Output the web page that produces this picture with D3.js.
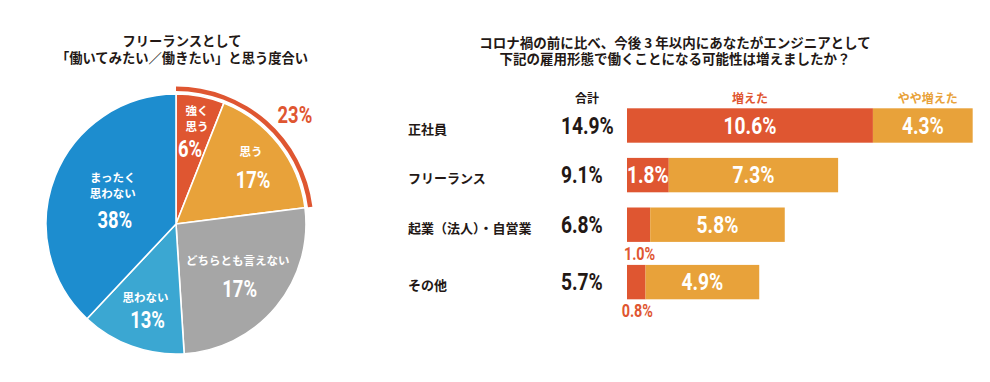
<!DOCTYPE html>
<html>
<head>
<meta charset="utf-8">
<script src="https://cdn.jsdelivr.net/npm/d3@7"></script>
<style>
  html, body { margin: 0; padding: 0; background: #fff; }
  svg { display: block; }
  .jp { font-family: "Noto Sans CJK JP", "Noto Sans", sans-serif; font-weight: 700; }
  .num { font-family: "Roboto", "Liberation Sans", sans-serif; font-weight: 700; }
</style>
</head>
<body>
<svg id="chart" width="990" height="382"></svg>
<script>
// ---------------- data ----------------
// Pie (left)
const pieTitle = ["フリーランスとして", "「働いてみたい／働きたい」と思う度合い"];
const pieCategories = ["強く思う", "思う", "どちらとも言えない", "思わない", "まったく思わない"];
const pieLabelLines = [["強く", "思う"], ["思う"], ["どちらとも言えない"], ["思わない"], ["まったく", "思わない"]];
const pieValues = [6, 17, 26, 13, 38];          // drawn slice sizes
const piePctLabels = ["6%", "17%", "17%", "13%", "38%"]; // printed labels
const pieHighlightLabel = "23%";

// Bars (right)
const barTitle = ["コロナ禍の前に比べ、今後 3 年以内にあなたがエンジニアとして", "下記の雇用形態で働くことになる可能性は増えましたか？"];
const barCategories = ["正社員", "フリーランス", "起業（法人）・自営業", "その他"];
const barTotals = [14.9, 9.1, 6.8, 5.7];
const increased = [10.6, 1.8, 1.0, 0.8];
const somewhatIncreased = [4.3, 7.3, 5.8, 4.9];
const seriesNames = ["増えた", "やや増えた"];
const totalHeader = "合計";

// ---------------- styles ----------------
const RED = "#DF5631", ORANGE = "#E8A23A", GRAY = "#A6A6A6", LBLUE = "#3BA7D2", BLUE = "#1D8DCF";
const pieColors = [RED, ORANGE, GRAY, LBLUE, BLUE];
const TEXT = "#231815";
const NARROW = 0.8;

const svg = d3.select("#chart");

// condensed number text helper
function numText(parent, px, py, str, size, fill, anchor) {
  return parent.append("text").attr("class", "num")
    .attr("transform", `translate(${px},${py}) scale(${NARROW},1)`)
    .attr("text-anchor", anchor || "middle").attr("dominant-baseline", "central")
    .attr("font-size", size).attr("fill", fill).text(str);
}

// multi-line title as a single text element
function titleText(px, py, lines, size, lineH) {
  const t = svg.append("text").attr("class", "jp")
    .attr("text-anchor", "middle").attr("font-size", size).attr("fill", TEXT);
  lines.forEach((s, i) => {
    t.append("tspan").attr("x", px).attr("y", py + i * lineH)
      .attr("dominant-baseline", "central").text(s);
  });
  return t;
}

// ---------------- pie ----------------
const cx = 176, cy = 224, R = 130;
const gPie = svg.append("g").attr("transform", `translate(${cx},${cy})`);

titleText(182, 40.5, pieTitle, 13.3, 16.5);

const pie = d3.pie().value(d => d).sort(null);
const arcs = pie(pieValues);
const arc = d3.arc().innerRadius(0).outerRadius(R);

gPie.selectAll("path.slice").data(arcs).join("path")
  .attr("class", "slice").attr("d", arc)
  .attr("fill", (d, i) => pieColors[i])
  .attr("stroke", "#fff").attr("stroke-width", 1.6).attr("stroke-linejoin", "round");

// highlight arc for first two slices
const hlEnd = arcs[1].endAngle;
gPie.append("path")
  .attr("d", d3.arc().innerRadius(R + 3).outerRadius(R + 7.5).startAngle(0).endAngle(hlEnd)())
  .attr("fill", RED);

const hlAngle = hlEnd * 0.575, hlR = 161;
numText(gPie, hlR * Math.sin(hlAngle), -hlR * Math.cos(hlAngle), pieHighlightLabel, 23, RED);

// slice labels
const labelRadius = [96, 95, 80, 90, 68];
const pctGap = [23, 29, 29, 24, 27];
arcs.forEach((a, i) => {
  const mid = (a.startAngle + a.endAngle) / 2;
  const lx = labelRadius[i] * Math.sin(mid), ly = -labelRadius[i] * Math.cos(mid);
  const lines = pieLabelLines[i];
  const lineH = 16;
  const blockH = (lines.length - 1) * lineH + pctGap[i];
  const top = ly - blockH / 2;
  const g = gPie.append("g");
  const t = g.append("text").attr("class", "jp")
    .attr("text-anchor", "middle").attr("font-size", 11.5).attr("fill", "#fff");
  lines.forEach((s, k) => {
    t.append("tspan").attr("x", lx + (i === 0 ? 3 : 0)).attr("y", top + k * lineH)
      .attr("dominant-baseline", "central").text(s);
  });
  numText(g, lx + (i === 0 ? -4 : 2), top + (lines.length - 1) * lineH + pctGap[i],
    piePctLabels[i], 23, "#fff");
});

// ---------------- bars ----------------
titleText(675, 41.5, barTitle, 13.5, 16.5);

const x = d3.scaleLinear().domain([0, 15]).range([627, 975]);
const barH = 34.4, rowStep = 49.6, belowGap = 7.8, firstTop = 108.3;
const insideMin = 1.5;
const below = increased.map(v => v < insideMin);
const tops = barCategories.map((c, i) => {
  let extra = 0;
  for (let k = 0; k < i; k++) if (below[k]) extra += belowGap;
  return firstTop + i * rowStep + extra;
});
const yTop = d3.scaleOrdinal().domain(barCategories).range(tops);

const rows = barCategories.map((c, i) => ({
  cat: c, total: barTotals[i], inc: increased[i], some: somewhatIncreased[i]
}));

const gBars = svg.append("g");

// headers
const r0 = rows[0];
gBars.append("text").attr("class", "jp")
  .attr("x", 587).attr("y", 97).attr("text-anchor", "middle").attr("dominant-baseline", "central")
  .attr("font-size", 12).attr("fill", TEXT).text(totalHeader);
gBars.append("text").attr("class", "jp")
  .attr("x", (x(0) + x(r0.inc)) / 2).attr("y", 97).attr("text-anchor", "middle").attr("dominant-baseline", "central")
  .attr("font-size", 12).attr("fill", RED).text(seriesNames[0]);
gBars.append("text").attr("class", "jp")
  .attr("x", (x(r0.inc) + x(r0.inc + r0.some)) / 2 + 5).attr("y", 97).attr("text-anchor", "middle").attr("dominant-baseline", "central")
  .attr("font-size", 12).attr("fill", ORANGE).text(seriesNames[1]);

rows.forEach((d, i) => {
  const g = gBars.append("g").attr("class", "row");
  const top = yTop(d.cat), midY = top + barH / 2;
  g.append("rect").attr("x", x(0)).attr("y", top)
    .attr("width", x(d.inc) - x(0)).attr("height", barH).attr("fill", RED);
  g.append("rect").attr("x", x(d.inc)).attr("y", top)
    .attr("width", x(d.inc + d.some) - x(d.inc)).attr("height", barH).attr("fill", ORANGE);

  g.append("text").attr("class", "jp")
    .attr("x", 408).attr("y", midY + 2.5)
    .attr("dominant-baseline", "central").attr("font-size", 13).attr("fill", TEXT)
    .text(d.cat);

  numText(g, 561, midY, d.total.toFixed(1) + "%", 24, TEXT, "start");

  if (below[i]) {
    numText(g, (x(0) + x(d.inc)) / 2 + 1, top + barH + 12, d.inc.toFixed(1) + "%", 18, RED);
  } else {
    numText(g, (x(0) + x(d.inc)) / 2, midY, d.inc.toFixed(1) + "%", 24, "#fff");
  }
  numText(g, (x(d.inc) + x(d.inc + d.some)) / 2, midY, d.some.toFixed(1) + "%", 24, "#fff");
});
</script>
</body>
</html>
